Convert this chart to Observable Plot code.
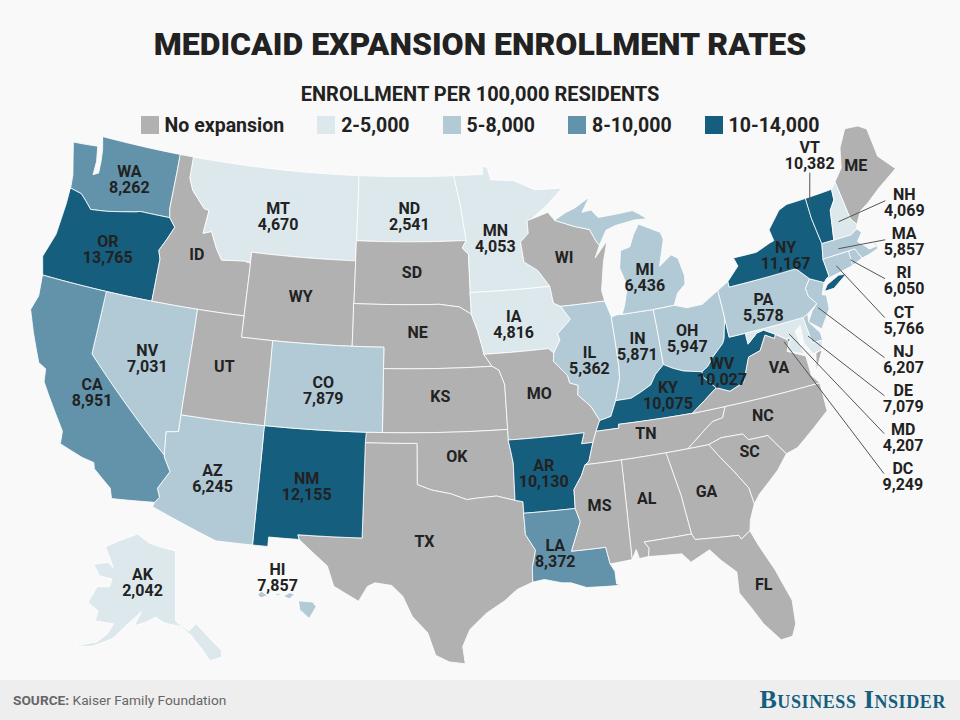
<!DOCTYPE html>
<html><head><meta charset="utf-8">
<script src="https://cdn.jsdelivr.net/npm/d3@7"></script>
<script src="https://cdn.jsdelivr.net/npm/@observablehq/plot@0.6"></script>
<style>
html,body{margin:0;padding:0;background:#f9f9f9;width:960px;height:720px;overflow:hidden;font-family:Roboto,sans-serif;color:#222}
#head{height:120px;position:relative;text-align:center}
#title{position:absolute;left:0;right:0;top:24px;font-size:32px;line-height:40px;font-weight:900}
#sub{position:absolute;left:0;right:0;top:82px;font-size:20px;line-height:24px;font-weight:700}
#legend{position:absolute;left:0;right:0;top:116px;display:flex;justify-content:center;gap:33px;font-size:19.5px;line-height:18px;font-weight:700;z-index:2}
.it{display:flex;align-items:center;gap:6px}.sw{width:18px;height:18px;display:block}.it span+span{position:relative;top:1px}
#foot{position:absolute;left:0;top:680px;width:960px;height:40px;background:#eee}
#src{position:absolute;left:13px;top:12px;font-size:13.7px;color:#666}
#bi{position:absolute;right:14px;top:5px;font-family:"Liberation Serif",serif;font-weight:700;font-size:26px;letter-spacing:.6px;font-variant:small-caps;color:#155e7e}
svg{display:block;overflow:visible}
</style></head><body>
<div id="head"><div id="title">MEDICAID EXPANSION ENROLLMENT RATES</div><div id="sub">ENROLLMENT PER 100,000 RESIDENTS</div><div id="legend"></div></div>
<div id="map"></div>
<div id="foot"><div id="src"><b>SOURCE:</b> Kaiser Family Foundation</div><div id="bi">Business Insider</div></div>
<script>
const categories=["No expansion","2-5,000","5-8,000","8-10,000","10-14,000"];
const colours=["#b1b1b1","#dde8ed","#b1cad6","#6393aa","#155e7e"];
const enrollment={WA:8262,OR:13765,CA:8951,NV:7031,AZ:6245,NM:12155,CO:7879,MT:4670,ND:2541,MN:4053,IA:4816,IL:5362,IN:5871,OH:5947,MI:6436,KY:10075,WV:10027,AR:10130,LA:8372,PA:5578,NY:11167,VT:10382,NH:4069,MA:5857,RI:6050,CT:5766,NJ:6207,DE:7079,MD:4207,DC:9249,AK:2042,HI:7857};
const labelPlaces=[["WA",-120.20,47.32],["OR",-120.53,43.90],["CA",-119.47,37.22],["NV",-116.62,39.29],["ID",-114.68,44.52],["MT",-109.55,46.78],["WY",-107.53,43.14],["UT",-111.87,39.52],["AZ",-111.69,34.24],["CO",-105.70,38.86],["NM",-106.31,34.31],["ND",-100.44,47.13],["SD",-100.27,44.50],["NE",-99.92,41.69],["KS",-98.57,38.68],["OK",-97.68,35.83],["TX",-99.62,31.86],["MN",-94.57,45.93],["IA",-93.78,41.84],["MO",-92.56,38.56],["AR",-92.73,34.80],["LA",-92.50,30.97],["WI",-90.06,44.76],["IL",-89.28,39.82],["MI",-84.99,43.24],["IN",-86.21,40.12],["OH",-83.07,40.09],["KY",-84.90,37.60],["WV",-81.42,38.22],["TN",-86.57,36.03],["MS",-89.78,32.99],["AL",-87.12,32.99],["GA",-83.75,32.85],["FL",-81.76,27.92],["SC",-80.90,34.25],["NC",-79.68,35.75],["VA",-78.04,37.74],["PA",-78.01,40.65],["NY",-75.75,42.70],["ME",-69.42,45.67],["VT",-72.17,46.81],["NH",-67.32,43.21],["MA",-68.27,41.52],["RI",-69.16,39.82],["CT",-70.04,38.07],["NJ",-70.85,36.36],["DE",-71.62,34.63],["MD",-72.35,32.89],["DC",-73.05,31.14],["AK",-151.47,65.05],["HI",-156.63,22.14]];
const leaders=[["VT",-72.53,46.08,-73.18,44.75],["NH",-68.42,43.63,-71.78,43.47],["MA",-69.34,41.93,-72.36,42.28],["RI",-70.22,40.23,-71.87,41.61],["CT",-71.05,38.52,-72.84,41.56],["NJ",-71.86,36.75,-74.73,39.95],["DE",-72.59,35.06,-75.83,38.82],["MD",-73.28,33.36,-76.90,39.16],["DC",-73.98,31.56,-77.33,38.87]];
const missMN=[[-92.01,46.71],[-92.29,46.66],[-92.29,46.07],[-92.87,45.7],[-92.76,44.75],[-91.9,44.3],[-91.22,43.5]];
const missIAWI=[[-91.22,43.5],[-91.1,42.7],[-90.64,42.51]];
const missIAIL=[[-90.64,42.51],[-90.15,41.85],[-91.05,41.25],[-90.95,40.95],[-91.42,40.38]];
const missMOIL=[[-91.42,40.38],[-91.5,40],[-90.72,39.25],[-90.65,38.9],[-90.15,38.75],[-90.25,38.3],[-89.55,37.7],[-89.13,36.98]];
const missARTN=[[-89.7,36],[-90.07,35.13],[-90.3,35]];
const missARMS=[[-90.3,35],[-90.6,34.5],[-91.1,33.9],[-91.15,33]];
const missLAMS=[[-91.15,33],[-90.95,32.35],[-91.6,31]];
const ohioOHWV=[[-82.6,38.42],[-82.2,38.6],[-81.75,39],[-81,39.5],[-80.85,39.7],[-80.52,40.64]];
const ohioKYOH=[[-84.82,39.1],[-84.3,38.85],[-83.7,38.63],[-82.6,38.42]];
const ohioKYIN=[[-88.03,37.8],[-87.1,37.8],[-86.5,38],[-85.8,38.27],[-85.4,38.72],[-84.82,39.1]];
const ohioKYIL=[[-89.13,36.98],[-88.45,37.1],[-88.03,37.8]];
const wabash=[[-88.03,37.8],[-87.6,38.8],[-87.53,39.35],[-87.52,41.7]];
const rv=a=>[...a].reverse();
const polygons={
WA:[[[-122.76,49],[-117.03,49],[-117.04,46.42],[-116.92,45.995],[-118.98,46],[-119.3,45.93],[-121.2,45.65],[-122.3,45.55],[-122.8,45.9],[-123.2,46.15],[-124,46.27],[-124.1,46.9],[-124.7,48.38],[-123.6,48.45],[-122.95,48.5],[-122.75,47.8],[-122.75,47.15],[-122.4,47.3],[-122.45,47.9],[-122.55,48.4],[-122.76,49]]],
OR:[[[-124,46.27],[-123.2,46.15],[-122.8,45.9],[-122.3,45.55],[-121.2,45.65],[-119.3,45.93],[-118.98,46],[-116.92,45.995],[-116.46,45.6],[-116.85,44.95],[-117.22,44.4],[-117.03,44],[-117.03,42],[-124.21,42],[-124.55,42.85],[-124.1,44],[-124,45.5]]],
ID:[[[-117.03,49],[-116.05,49],[-116.05,48],[-115.7,47.45],[-114.7,46.7],[-114.35,46.65],[-114.5,45.55],[-113.95,45.7],[-113.45,44.95],[-113,44.45],[-111.5,44.55],[-111.05,44.48],[-111.05,42],[-117.03,42],[-117.03,44],[-117.22,44.4],[-116.85,44.95],[-116.46,45.6],[-116.92,45.995],[-117.04,46.42]]],
MT:[[[-116.05,49],[-104.05,49],[-104.05,45],[-111.05,45],[-111.05,44.48],[-111.5,44.55],[-113,44.45],[-113.45,44.95],[-113.95,45.7],[-114.5,45.55],[-114.35,46.65],[-114.7,46.7],[-115.7,47.45],[-116.05,48]]],
WY:[[[-111.05,45],[-104.05,45],[-104.05,41],[-111.05,41]]],
ND:[[[-104.05,49],[-97.23,49],[-96.85,47.6],[-96.56,45.94],[-104.05,45.94]]],
SD:[[[-104.05,45.94],[-96.56,45.94],[-96.85,45.6],[-96.45,45.3],[-96.45,43.5],[-96.45,42.49],[-97.2,42.85],[-98.5,43],[-104.05,43]]],
NE:[[[-104.05,43],[-98.5,43],[-97.2,42.85],[-96.45,42.49],[-96.1,41.7],[-95.85,40.9],[-95.77,40.58],[-95.31,40],[-102.05,40],[-102.05,41],[-104.05,41]]],
KS:[[[-102.05,40],[-95.31,40],[-94.9,39.8],[-94.61,39.11],[-94.62,37],[-102.04,37]]],
OK:[[[-103,37],[-94.62,37],[-94.62,36.5],[-94.43,35.4],[-94.48,33.64],[-95.5,33.9],[-96.6,33.85],[-97.2,33.8],[-98.1,34.1],[-99.2,34.3],[-100,34.56],[-100,36.5],[-103.04,36.5]]],
TX:[[[-103.04,36.5],[-100,36.5],[-100,34.56],[-99.2,34.3],[-98.1,34.1],[-97.2,33.8],[-96.6,33.85],[-95.5,33.9],[-94.48,33.64],[-94.04,33.55],[-94.04,31.99],[-93.55,31.2],[-93.8,30.4],[-93.84,29.7],[-94.7,29.4],[-95.4,28.9],[-96.4,28.35],[-97.3,27.6],[-97.7,26.8],[-97.6,25.96],[-98.4,26.07],[-99.1,26.4],[-99.5,27.5],[-100.3,28.28],[-100.8,29.25],[-101.4,29.77],[-102.3,29.88],[-102.7,29.7],[-103.15,28.98],[-104.5,29.65],[-104.9,30.6],[-106.53,31.78],[-106.62,32],[-103.06,32]]],
NM:[[[-109.05,37],[-103,37],[-103.04,36.5],[-103.06,32],[-106.62,32],[-106.53,31.78],[-108.21,31.78],[-108.21,31.33],[-109.05,31.33]]],
AZ:[[[-114.04,37],[-109.05,37],[-109.05,31.33],[-111.07,31.33],[-114.8,32.5],[-114.72,32.72],[-114.5,33],[-114.7,33.4],[-114.15,34.27],[-114.6,34.9],[-114.63,35],[-114.75,36.1],[-114.04,36.2]]],
NV:[[[-120,42],[-114.04,42],[-114.04,36.2],[-114.75,36.1],[-114.63,35],[-120,39]]],
UT:[[[-114.04,42],[-111.05,42],[-111.05,41],[-109.05,41],[-109.05,37],[-114.04,37]]],
CO:[[[-109.05,41],[-102.05,41],[-102.05,37],[-109.05,37]]],
CA:[[[-124.21,42],[-120,42],[-120,39],[-114.63,35],[-114.6,34.9],[-114.15,34.27],[-114.7,33.4],[-114.5,33],[-114.72,32.72],[-117.12,32.53],[-117.3,33],[-118.4,33.75],[-118.5,34.03],[-119.2,34.15],[-120.6,34.55],[-120.65,35.15],[-121.9,36.6],[-122.4,37.2],[-122.5,37.8],[-123,38],[-123.8,39.3],[-124.35,40.3],[-124.1,41]]],
MN:[[[-97.23,49],[-95.15,49],[-95.15,49.38],[-94.8,49.3],[-94.6,48.72],[-93,48.6],[-91.5,48.07],[-89.6,48],[-90.8,47.3],...missMN,[-96.45,43.5],[-96.45,45.3],[-96.85,45.6],[-96.56,45.94],[-96.85,47.6]]],
IA:[[[-96.45,43.5],...missIAWI,...missIAIL,[-91.73,40.61],[-95.77,40.58],[-95.85,40.9],[-96.1,41.7],[-96.45,42.49]]],
MO:[[[-95.77,40.58],[-91.73,40.61],...missMOIL,[-89.42,36.5],[-89.7,36],[-90.37,36],[-90.15,36.5],[-94.62,36.5],[-94.62,37],[-94.61,39.11],[-94.9,39.8],[-95.31,40]]],
AR:[[[-94.62,36.5],[-90.15,36.5],[-90.37,36],...missARTN,...missARMS,[-94.04,33],[-94.04,33.55],[-94.48,33.64],[-94.43,35.4]]],
LA:[[[-94.04,33],...missLAMS,[-89.73,31],[-89.6,30.18],[-89.4,29.8],[-89.4,29.2],[-89.1,29.1],[-90.1,29.15],[-91,29.2],[-91.8,29.5],[-92.3,29.55],[-93.2,29.78],[-93.84,29.7],[-93.8,30.4],[-93.55,31.2],[-94.04,31.99]]],
WI:[[[-92.01,46.71],[-90.8,46.95],[-90.4,46.55],[-89.1,46.14],[-88.1,45.9],[-87.8,45.35],[-87.6,45.1],[-88,44.55],[-87.05,45.25],[-87.5,44.3],[-87.9,43],[-87.8,42.49],[-90.64,42.51],[-91.1,42.7],...rv(missMN)]],
IL:[[[-90.64,42.51],[-87.8,42.49],...rv(wabash),...rv(ohioKYIL),...rv(missMOIL),...rv(missIAIL)]],
IN:[[[-87.52,41.7],[-87.2,41.76],[-84.8,41.72],...ohioKYOH.slice(0,1),...rv(ohioKYIN),...wabash.slice(1)]],
MI:[[[-86.82,41.76],[-84.8,41.72],[-83.45,41.73],[-83.1,42.25],[-82.5,42.6],[-82.42,43],[-82.6,43.85],[-83,44.07],[-83.9,43.65],[-83.3,44.85],[-83.4,45.2],[-84.75,45.78],[-85.2,45.35],[-85.6,44.8],[-86.25,44.7],[-86.5,43.9],[-86.2,43],[-86.6,42.1]],[[-90.4,46.55],[-89.1,46.14],[-88.1,45.9],[-87.8,45.35],[-87.6,45.1],[-87,45.75],[-86.3,45.9],[-85,46],[-84.1,45.95],[-84.6,46.25],[-85,46.45],[-86.1,46.42],[-87.4,46.4],[-87.8,46.8],[-88.45,46.75],[-87.8,47.4],[-88.9,47],[-89.6,46.83]]],
OH:[[[-84.8,41.72],[-83.45,41.73],[-82.7,41.5],[-81.7,41.5],[-80.52,41.98],...rv(ohioOHWV),...rv(ohioKYOH)]],
KY:[[...ohioKYIL,...ohioKYIN.slice(1),...ohioKYOH.slice(1),[-82.6,38.17],[-81.97,37.54],[-83.67,36.6],[-88.07,36.68],[-88.07,36.5],[-89.42,36.5]]],
TN:[[[-89.42,36.5],[-88.07,36.5],[-88.07,36.68],[-83.67,36.6],[-81.68,36.59],[-82,36.1],[-82.6,36.03],[-83.1,35.75],[-84.32,35],...rv(missARTN)]],
WV:[[[-80.52,40.64],[-80.52,39.72],[-79.48,39.72],[-79.48,39.2],[-78.8,39.6],[-78.35,39.65],[-77.72,39.32],[-77.83,39.13],[-78.35,39.4],[-78.87,38.76],[-79.65,38.6],[-80.3,37.5],[-81.22,37.24],[-81.97,37.54],[-82.6,38.17],...ohioOHWV.slice(0,5)]],
VA:[[[-83.67,36.6],[-81.97,37.54],[-81.22,37.24],[-80.3,37.5],[-79.65,38.6],[-78.87,38.76],[-78.35,39.4],[-77.83,39.13],[-77.72,39.32],[-77.12,38.93],[-77.04,38.79],[-77.3,38.4],[-76.3,37.95],[-76.3,37],[-75.95,36.55],[-81.68,36.59]],[[-75.65,37.95],[-75.24,38.03],[-75.95,37.12]]],
DC:[[[-77.12,38.93],[-77.04,39],[-76.91,38.89],[-77.04,38.79]]],
MD:[[[-79.48,39.72],[-75.79,39.72],[-75.7,38.46],[-75.05,38.45],[-75.24,38.03],[-75.85,37.95],[-76.2,38.6],[-76.1,39.4],[-76.5,39.2],[-76.4,38.3],[-76.32,38.05],[-77.3,38.4],[-77.04,38.79],[-76.91,38.89],[-77.04,39],[-77.12,38.93],[-77.72,39.32],[-78.35,39.65],[-78.8,39.6],[-79.48,39.2]]],
DE:[[[-75.79,39.72],[-75.45,39.82],[-75.55,39.45],[-75.05,38.8],[-75.05,38.45],[-75.7,38.46]]],
PA:[[[-80.52,41.98],[-79.76,42.27],[-79.76,42],[-75.35,42],[-74.7,41.36],[-75.13,40.97],[-75.1,40.6],[-74.73,40.15],[-75.45,39.82],[-75.79,39.72],[-80.52,39.72]]],
NJ:[[[-74.7,41.36],[-73.9,40.99],[-74.25,40.47],[-74,40.4],[-74.1,39.75],[-74.9,38.95],[-75.55,39.45],[-75.13,39.9],[-74.73,40.15],[-75.1,40.6],[-75.13,40.97]]],
NY:[[[-79.76,42.27],[-78.9,42.85],[-79.05,43.27],[-77.5,43.25],[-76.5,43.5],[-76.2,43.55],[-76.3,44.1],[-75.3,44.85],[-74.7,45],[-73.35,45],[-73.4,44],[-73.27,42.75],[-73.5,42.05],[-73.49,41.2],[-73.73,41.1],[-73.9,40.99],[-74.7,41.36],[-75.35,42],[-79.76,42]],[[-74.03,40.6],[-73.75,40.85],[-72.9,41.1],[-72.4,41.05],[-73.4,40.6]]],
VT:[[[-73.35,45],[-71.5,45.01],[-71.6,44.5],[-72.05,44.1],[-72.46,42.73],[-73.27,42.75],[-73.4,44]]],
NH:[[[-71.5,45.01],[-71.1,45.3],[-70.98,43.4],[-70.7,43.07],[-70.82,42.87],[-71.3,42.7],[-72.46,42.73],[-72.05,44.1],[-71.6,44.5]]],
ME:[[[-71.1,45.3],[-70.4,45.8],[-70,46.7],[-69.22,47.46],[-68.3,47.36],[-67.8,47.07],[-67.8,45.7],[-67,44.85],[-68.5,44.3],[-69.5,43.85],[-70.2,43.6],[-70.7,43.07],[-70.98,43.4]]],
MA:[[[-73.5,42.05],[-73.27,42.75],[-72.46,42.73],[-71.3,42.7],[-70.82,42.87],[-70.6,42.65],[-71.05,42.3],[-70.65,41.95],[-70.5,41.78],[-70,41.8],[-70.2,42.07],[-69.95,41.9],[-69.98,41.67],[-70.65,41.55],[-71.13,41.5],[-71.38,42.02],[-71.8,42.02]]],
RI:[[[-71.8,42.02],[-71.38,42.02],[-71.13,41.5],[-71.85,41.32]]],
CT:[[[-73.5,42.05],[-71.8,42.02],[-71.85,41.32],[-73.73,41.1],[-73.49,41.2]]],
NC:[[[-81.68,36.59],[-75.95,36.55],[-76,35.2],[-77,34.6],[-78.2,33.9],[-78.9,33.75],[-79.67,34.8],[-80.8,34.82],[-81.05,35.15],[-82.3,35.2],[-83.1,35],[-84.32,35],[-83.1,35.75],[-82.6,36.03],[-82,36.1]]],
SC:[[[-83.1,35],[-82.3,35.2],[-81.05,35.15],[-80.8,34.82],[-79.67,34.8],[-78.9,33.75],[-79.6,33.1],[-80.9,32.2],[-81.3,31.8],[-81.4,32.6],[-82,33.5],[-82.6,34.3]]],
GA:[[[-85.6,35],[-83.1,35],[-82.6,34.3],[-82,33.5],[-81.4,32.6],[-81.3,31.8],[-81.7,31.1],[-81.85,30.6],[-82.4,30.3],[-82.5,30.5],[-84.86,30.71],[-85,31],[-85.1,32],[-85.18,32.87]]],
AL:[[[-88.2,35],[-85.6,35],[-85.18,32.87],[-85.1,32],[-85,31],[-87.6,31],[-87.4,30.65],[-87.5,30.28],[-88,30.25],[-88.1,30.7],[-88.4,30.25]]],
MS:[[...missARMS,...missLAMS.slice(1),[-89.73,31],[-89.6,30.18],[-88.4,30.25],[-88.2,35]]],
FL:[[[-87.6,31],[-85,31],[-84.86,30.71],[-82.5,30.5],[-82.4,30.3],[-81.85,30.6],[-81.6,29.9],[-81,28.5],[-80.5,26.9],[-80.6,25.75],[-80.9,25.2],[-81.5,25.15],[-82.2,26.1],[-82.6,26.9],[-83.1,27.8],[-83,28.8],[-83.7,29.5],[-84.2,30.1],[-85.3,29.68],[-85.7,30.15],[-87.5,30.28],[-87.4,30.65]]],
AK:[[[-141,69.65],[-141,60.3],[-137.5,58.9],[-135.5,59.8],[-133.4,58.4],[-130,55.9],[-130.2,55],[-133,54.7],[-134.5,56.3],[-137,58.3],[-139.6,59.55],[-144,60],[-146.5,60.7],[-148.5,60],[-151.8,59.2],[-150.5,61.2],[-153.6,59.3],[-156.5,57],[-161,55.2],[-164.8,54.6],[-160,56],[-158,57.5],[-157.2,58.9],[-162,58.6],[-162,60],[-165.4,60.6],[-164.5,63],[-161,63.5],[-161,64.6],[-165,64.45],[-168.1,65.6],[-164,66.5],[-161.8,66.1],[-163.7,67.1],[-166.7,68.35],[-163,69.7],[-156.6,71.35],[-151,70.4]]],
HI:[[[-155.9,20.25],[-155.1,19.85],[-155,19.5],[-155.7,18.95],[-156.05,19.7]],[[-156.7,20.9],[-156.25,20.95],[-156,20.75],[-156.4,20.6]],[[-158.25,21.55],[-157.95,21.7],[-157.65,21.3],[-158.1,21.3]],[[-159.75,22.1],[-159.4,22.2],[-159.3,21.95],[-159.6,21.9]],[[-157.25,21.2],[-156.75,21.15],[-157,21.05]]]
};
const bucket=v=>v==null?categories[0]:v<5000?categories[1]:v<8000?categories[2]:v<10000?categories[3]:categories[4];
function dens(r){const o=[];r.forEach((p,i)=>{const q=r[(i+1)%r.length],n=Math.ceil(Math.max(Math.abs(q[0]-p[0]),Math.abs(q[1]-p[1])));for(let j=0;j<n;j++)o.push([p[0]+(q[0]-p[0])*j/n,p[1]+(q[1]-p[1])*j/n]);});o.push(o[0]);return o;}
function ring(r){let c=dens(r);return d3.geoArea({type:"Polygon",coordinates:[c]})>2*Math.PI?c.reverse():c;}
const features=Object.entries(polygons).map(([id,rs])=>({type:"Feature",id,geometry:{type:"MultiPolygon",coordinates:rs.map(r=>[ring(r)])}}));
const lower=d3.geoConicEqualArea().parallels([35,50]).rotate([100.5,0]).center([0,38]).scale(1215).translate([408,291]).clipExtent([[0,0],[960,560]]);
const alaska=d3.geoConicEqualArea().parallels([55,65]).rotate([141,0]).center([0,65]).scale(430).translate([175,465]).clipExtent([[0,400],[240,548]]);
const hawaii=d3.geoConicEqualArea().parallels([29.5,45.5]).rotate([192,0]).center([35,20.5]).scale(920).translate([281,483]).clipExtent([[240,440],[330,510]]);
const parts=[lower,alaska,hawaii];
const projection={stream(sink){const ss=parts.map(p=>p.stream(sink));const all=f=>(...a)=>ss.forEach(s=>s[f](...a));return {point:all("point"),sphere:all("sphere"),lineStart:all("lineStart"),lineEnd:all("lineEnd"),polygonStart:all("polygonStart"),polygonEnd:all("polygonEnd")};}};
const fmt=d3.format(",");
const labels=labelPlaces.map(([id,lon,lat])=>({lon,lat,text:enrollment[id]==null?id:id+"\n"+fmt(enrollment[id])}));
const links=leaders.map(([id,x1,y1,x2,y2])=>({id,x1,y1,x2,y2}));
const chart=Plot.plot({width:960,height:560,margin:0,projection,style:{background:"transparent"},color:{domain:categories,range:colours},marks:[
Plot.geo({type:"FeatureCollection",features},{fill:d=>bucket(enrollment[d.id]),stroke:"#fff",strokeWidth:.8}),
Plot.link(links,{x1:"x1",y1:"y1",x2:"x2",y2:"y2",stroke:"#555",strokeWidth:1}),
Plot.text(labels,{x:"lon",y:"lat",text:"text",fontSize:16,fontWeight:700,fontFamily:"Roboto",lineHeight:1,fill:"#222"})
]});
document.getElementById("map").append(chart);
const lg=d3.select("#legend");categories.forEach((c,i)=>{const it=lg.append("div").attr("class","it");it.append("span").attr("class","sw").style("background",colours[i]);it.append("span").text(c);});
</script></body></html>
